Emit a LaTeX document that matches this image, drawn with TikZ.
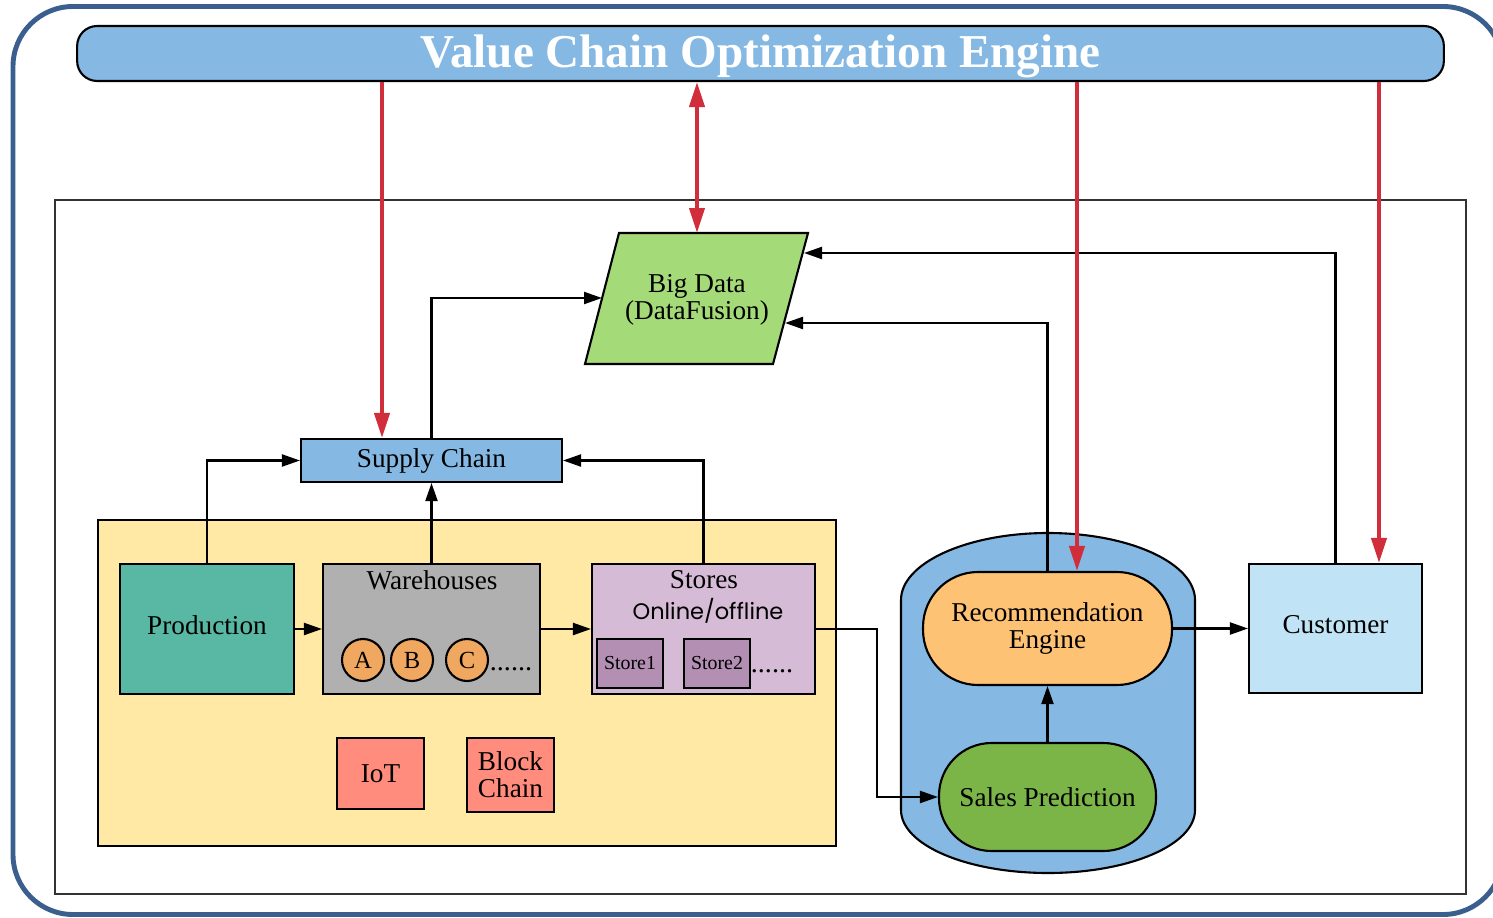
\documentclass[tikz,border=0pt]{standalone}
\usepackage{fontspec}
\setmainfont{Liberation Serif}
\newfontfamily\gothic{Poppins}
\usetikzlibrary{arrows.meta,calc}
\definecolor{outerc}{HTML}{3A5F8E}
\definecolor{titleblue}{HTML}{85B9E3}
\definecolor{bdgreen}{HTML}{A5DA79}
\definecolor{yellowbg}{HTML}{FFE9A5}
\definecolor{teal}{HTML}{58B8A4}
\definecolor{whgray}{HTML}{B0B0B0}
\definecolor{circorange}{HTML}{F0A860}
\definecolor{lilac}{HTML}{D5BBD5}
\definecolor{storebox}{HTML}{B48FB4}
\definecolor{salmon}{HTML}{FF8C7C}
\definecolor{recorange}{HTML}{FEC274}
\definecolor{salesgreen}{HTML}{7BB548}
\definecolor{custblue}{HTML}{C0E3F5}
\definecolor{arrred}{HTML}{D12E3C}
\begin{document}
\begin{tikzpicture}[x=0.02cm,y=-0.02cm,
  every node/.style={font=\fontsize{15.5}{15.5}\selectfont, align=center, inner sep=0pt},
  box/.style={draw=black, line width=1.2pt, rectangle},
  arr/.style={draw=black, line width=1.2pt, -{Triangle[length=0.36cm,width=0.24cm]}},
  redarr/.style={draw=arrred, line width=2.3pt, -{Triangle[length=0.5cm,width=0.3cm]}},
  redboth/.style={draw=arrred, line width=2.3pt, {Triangle[length=0.5cm,width=0.3cm]}-{Triangle[length=0.5cm,width=0.3cm]}},
  circ/.style={draw=black, line width=1.2pt, circle, fill=circorange, minimum size=0.84cm, font=\fontsize{14}{14}\selectfont},
  storeb/.style={box, fill=storebox, minimum width=1.32cm, minimum height=0.98cm, font=\fontsize{11.3}{11.3}\selectfont},
  dots/.style={font=\fontsize{16}{16}\selectfont}
]
\useasboundingbox (0,0) rectangle (1493,918);
\begin{scope}
  \clip (0,0) rectangle (1493,918);
  \draw[outerc, line width=2.8pt, rounded corners=1.2cm] (13,6.5) rectangle (1503,914.5);
\end{scope}
% inner frame
\draw[black!80, line width=1.1pt] (55,200) rectangle (1466,894);
% title bar
\node[box, fill=titleblue, rounded corners=0.4cm, minimum width=27.34cm, minimum height=1.1cm,
  text=white, font=\fontsize{26.8}{26.8}\selectfont\bfseries] (vce) at (760.5,53.5) {\raisebox{-0.29cm}[0pt][0pt]{Value Chain Optimization Engine}};
% yellow region
\draw[fill=yellowbg, draw=black, line width=1.1pt] (98,520) rectangle (836,846);
% blue container
\draw[fill=titleblue, draw=black, line width=1.2pt]
  (901,600) .. controls (901,563) and (967,533) .. (1048,533)
  .. controls (1129,533) and (1195,563) .. (1195,600) -- (1195,810)
  .. controls (1195,845) and (1129,873) .. (1048,873)
  .. controls (967,873) and (901,845) .. (901,810) -- cycle;
% big data parallelogram
\draw[fill=bdgreen, draw=black, line width=1.2pt] (619,233) -- (808,233) -- (773,364) -- (585,364) -- cycle;
\node (bd) at (697,300) {Big Data\\(DataFusion)};
\coordinate (bdtop) at (697,233);
\coordinate (bdL) at (602,298);
\coordinate (bdR1) at (785,323);
\coordinate (bdR2) at (804,253);
% supply chain
\node[box, fill=titleblue, minimum width=5.22cm, minimum height=0.86cm] (sc) at (431.5,460.5) {Supply Chain};
% production
\node[box, fill=teal, minimum width=3.48cm, minimum height=2.6cm] (prod) at (207,629) {\raisebox{-0.1cm}[0pt][0pt]{Production}};
% warehouses
\node[box, fill=whgray, minimum width=4.34cm, minimum height=2.6cm] (wh) at (431.5,629) {};
\node (whl) at (432,580) {Warehouses};
\node[circ] (ca) at (363,660) {A};
\node[circ] (cb) at (412,660) {B};
\node[circ] (cc) at (467,660) {C};
\node[dots] (whd) at (511,669) {......};
% stores
\node[box, fill=lilac, minimum width=4.46cm, minimum height=2.6cm] (st) at (703.5,629) {};
\node (stl) at (704,580) {Stores};
\node[font=\gothic\fontsize{12.8}{12.8}\selectfont] (sto) at (708,611) {Online/offline};
\node[storeb] (s1) at (630,663.5) {Store1};
\node[storeb] (s2) at (717,663.5) {Store2};
\node[dots] (std) at (772,671) {......};
% IoT and Block Chain
\node[box, fill=salmon, minimum width=1.74cm, minimum height=1.42cm] (iot) at (380.5,773.5) {IoT};
\node[box, fill=salmon, minimum width=1.74cm, minimum height=1.48cm] (bc) at (510.5,775) {Block\\Chain};
% recommendation and sales
\node[box, fill=recorange, rounded corners=1.1cm, minimum width=4.98cm, minimum height=2.26cm] (rec) at (1047.5,628.5) {Recommendation\\Engine};
\node[box, fill=salesgreen, rounded corners=1.05cm, minimum width=4.34cm, minimum height=2.16cm] (sp) at (1047.5,797) {Sales Prediction};
% customer
\node[box, fill=custblue, minimum width=3.46cm, minimum height=2.58cm] (cust) at (1335.5,628.5) {\raisebox{-0.1cm}[0pt][0pt]{Customer}};
% black connectors
\draw[arr] (prod.north) |- (sc.west);
\draw[arr] (wh.north) -- (sc.south);
\draw[arr] (st.north) |- (sc.east);
\draw[arr] (sc.north) |- (bdL);
\draw[arr] (prod.east) -- (wh.west);
\draw[arr] (wh.east) -- (st.west);
\draw[arr] (st.east) -| ($(st.east)!0.5!(sp.west)$) |- (sp.west);
\draw[arr] (sp.north) -- (rec.south);
\draw[arr] (rec.east) -- (cust.west);
\draw[arr] (rec.north) |- (bdR1);
\draw[arr] (cust.north) |- (bdR2);
% red connectors
\path ([xshift=-0.99cm]sc.north) coordinate (r1);
\path ([xshift=0.59cm]rec.north) coordinate (r3);
\path ([xshift=0.87cm]cust.north) coordinate (r4);
\draw[redarr] (vce.south -| r1) -- (r1);
\draw[redboth] (vce.south -| bdtop) -- (bdtop);
\draw[redarr] (vce.south -| r3) -- (r3);
\draw[redarr] (vce.south -| r4) -- (r4);
\end{tikzpicture}
\end{document}
